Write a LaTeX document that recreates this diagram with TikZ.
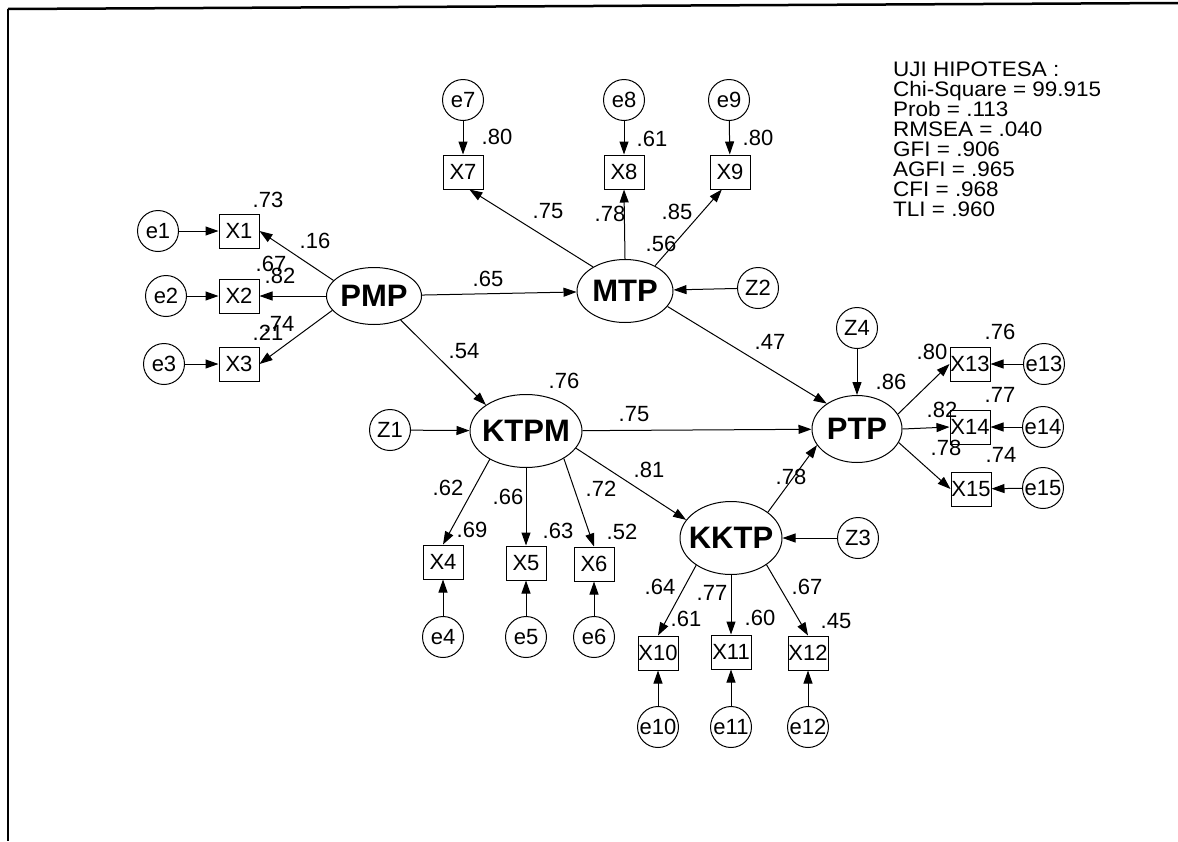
\documentclass[tikz,border=0pt]{standalone}
\usepackage{fontspec}
\setmainfont{Liberation Sans}
\newfontfamily\statsfam[FakeStretch=1.07]{Liberation Sans}
\usetikzlibrary{shapes.geometric,arrows.meta}
\newcommand\statsfont{\statsfam\fontsize{21}{20}\selectfont\lineskiplimit=-100pt\relax\lineskip=0pt\relax}
\begin{document}
\begin{tikzpicture}[x=1pt,y=-1pt,
  lat/.style={ellipse,draw,line width=1pt,inner sep=0pt},
  obs/.style={rectangle,draw,line width=1pt,inner sep=0pt,minimum width=40pt,minimum height=34pt,font=\fontsize{22}{24}\selectfont},
  err/.style={circle,draw,line width=1pt,inner sep=0pt,minimum size=41pt,font=\fontsize{22}{24}\selectfont},
  coef/.style={inner sep=0pt,font=\fontsize{22}{24}\selectfont},
  arr/.style={line width=1pt,-{Triangle[length=13pt,width=9pt]}},
  lt/.style={inner sep=0pt,font=\bfseries\fontsize{31}{33}\selectfont}
]
\useasboundingbox (0,0) rectangle (1178,841);
\fill[white] (0,0) rectangle (1178,841);
% frame
\coordinate (ftl) at (8,9);
\coordinate (ftr) at (1178,3);
\coordinate (fbl) at (8,841);
\draw[line width=2.5pt] (ftl) -- (ftr);
\draw[line width=1.5pt] (ftl) -- (fbl);

% latent variables
\node[lat,minimum width=95pt,minimum height=57pt,label={[lt]center:PMP}] (PMP) at (374,296) {};
\node[lat,minimum width=96pt,minimum height=63pt,label={[lt]center:MTP}] (MTP) at (625,291) {};
\node[lat,minimum width=112pt,minimum height=73pt,label={[lt]center:KTPM}] (KTPM) at (526,431) {};
\node[lat,minimum width=90pt,minimum height=67pt,label={[lt]center:PTP}] (PTP) at (857,429) {};
\node[lat,minimum width=102pt,minimum height=73pt,label={[lt]center:KKTP}] (KKTP) at (731,538) {};

% indicators
\node[obs] (X1) at (239,231) {X1};
\node[obs] (X2) at (239,296) {X2};
\node[obs] (X3) at (239,364) {X3};
\node[obs] (X7) at (463,172) {X7};
\node[obs] (X8) at (624,172) {X8};
\node[obs] (X9) at (730,172) {X9};
\node[obs] (X4) at (443,562) {X4};
\node[obs] (X5) at (526,563) {X5};
\node[obs] (X6) at (594,564) {X6};
\node[obs] (X10) at (658,653) {X10};
\node[obs] (X11) at (731,652) {X11};
\node[obs] (X12) at (808,653) {X12};
\node[obs] (X13) at (970,364) {X13};
\node[obs] (X14) at (970,427) {X14};
\node[obs] (X15) at (971,489) {X15};

% errors / disturbances
\node[err] (e1) at (158,231) {e1};
\node[err] (e2) at (166,296) {e2};
\node[err] (e3) at (164,364) {e3};
\node[err] (e7) at (463,100) {e7};
\node[err] (e8) at (624,100) {e8};
\node[err] (e9) at (729,100) {e9};
\node[err] (e4) at (443,637) {e4};
\node[err] (e5) at (526,637) {e5};
\node[err] (e6) at (594,637) {e6};
\node[err] (e10) at (658,727) {e10};
\node[err] (e11) at (731,727) {e11};
\node[err] (e12) at (808,727) {e12};
\node[err] (e13) at (1044,364) {e13};
\node[err] (e14) at (1043,427) {e14};
\node[err] (e15) at (1043,488) {e15};
\node[err] (Z1) at (390,430) {Z1};
\node[err] (Z2) at (758,288) {Z2};
\node[err] (Z3) at (858,538) {Z3};
\node[err] (Z4) at (857,328) {Z4};

% structural paths
\draw[arr] (PMP) -- (MTP);
\draw[arr] (PMP.-42) -- (KTPM.147);
\draw[arr] (MTP.-20) -- (PTP.140);
\draw[arr] (KTPM) -- (PTP);
\draw[arr] (KTPM.-19) -- (KKTP.158);
\draw[arr] (KKTP.35) -- (PTP.202);
\draw[arr] (Z1) -- (KTPM);
\draw[arr] (Z2) -- (MTP);
\draw[arr] (Z3) -- (KKTP);
\draw[arr] (Z4) -- (PTP);

% loadings
\draw[arr] (PMP.159) -- (X1.east);
\draw[arr] (PMP.west) -- (X2.east);
\draw[arr] (PMP.199) -- (X3.east);
\draw[arr] (MTP.143) -- (X7.-70);
\draw[arr] (MTP.north) -- (X8.south);
\draw[arr] (MTP.40) -- (X9.-115);
\draw[arr] (KTPM.218) -- (X4.north);
\draw[arr] (KTPM.south) -- (X5.north);
\draw[arr] (KTPM.-36) -- (X6.north);
\draw[arr] (KKTP.218) -- (X10.north);
\draw[arr] (KKTP.south) -- (X11.north);
\draw[arr] (KKTP.-37) -- (X12.north);
\draw[arr] (PTP.20) -- (X13.west);
\draw[arr] (PTP.east) -- (X14.west);
\draw[arr] (PTP.-18) -- (X15.west);

% error paths
\draw[arr] (e1) -- (X1);
\draw[arr] (e2) -- (X2);
\draw[arr] (e3) -- (X3);
\draw[arr] (e7) -- (X7);
\draw[arr] (e8) -- (X8);
\draw[arr] (e9) -- (X9);
\draw[arr] (e4) -- (X4);
\draw[arr] (e5) -- (X5);
\draw[arr] (e6) -- (X6);
\draw[arr] (e10) -- (X10);
\draw[arr] (e11) -- (X11);
\draw[arr] (e12) -- (X12);
\draw[arr] (e13) -- (X13);
\draw[arr] (e14) -- (X14);
\draw[arr] (e15) -- (X15);

% coefficients
\node[coef] (c1) at (268,200) {.73};
\node[coef] (c2) at (315,241) {.16};
\node[coef] (c3) at (271,264) {.67};
\node[coef] (c4) at (280,276) {.82};
\node[coef] (c5) at (279,324) {.74};
\node[coef] (c6) at (268,333) {.21};
\node[coef] (c7) at (497,137) {.80};
\node[coef] (c8) at (652,139) {.61};
\node[coef] (c9) at (758,138) {.80};
\node[coef] (c10) at (548,211) {.75};
\node[coef] (c11) at (610,214) {.78};
\node[coef] (c12) at (677,212) {.85};
\node[coef] (c13) at (661,244) {.56};
\node[coef] (c14) at (488,279) {.65};
\node[coef] (c15) at (464,351) {.54};
\node[coef] (c16) at (564,381) {.76};
\node[coef] (c17) at (634,414) {.75};
\node[coef] (c18) at (649,470) {.81};
\node[coef] (c19) at (448,488) {.62};
\node[coef] (c20) at (508,497) {.66};
\node[coef] (c21) at (601,489) {.72};
\node[coef] (c22) at (472,530) {.69};
\node[coef] (c23) at (558,531) {.63};
\node[coef] (c24) at (622,532) {.52};
\node[coef] (c25) at (770,342) {.47};
\node[coef] (c26) at (891,382) {.86};
\node[coef] (c27) at (932,352) {.80};
\node[coef] (c28) at (1000,332) {.76};
\node[coef] (c29) at (1000,395) {.77};
\node[coef] (c30) at (942,410) {.82};
\node[coef] (c31) at (946,448) {.78};
\node[coef] (c32) at (1001,455) {.74};
\node[coef] (c33) at (791,477) {.78};
\node[coef] (c34) at (660,587) {.64};
\node[coef] (c35) at (712,593) {.77};
\node[coef] (c36) at (807,587) {.67};
\node[coef] (c37) at (686,619) {.61};
\node[coef] (c38) at (760,618) {.60};
\node[coef] (c39) at (836,621) {.45};

% fit statistics
\node[anchor=north west,inner sep=0pt,align=left,font=\statsfont] (stats) at (893,62)
 {UJI HIPOTESA :\\Chi-Square = 99.915\\Prob = .113\\RMSEA = .040\\GFI = .906\\AGFI = .965\\CFI = .968\\TLI = .960};
\end{tikzpicture}
\end{document}
